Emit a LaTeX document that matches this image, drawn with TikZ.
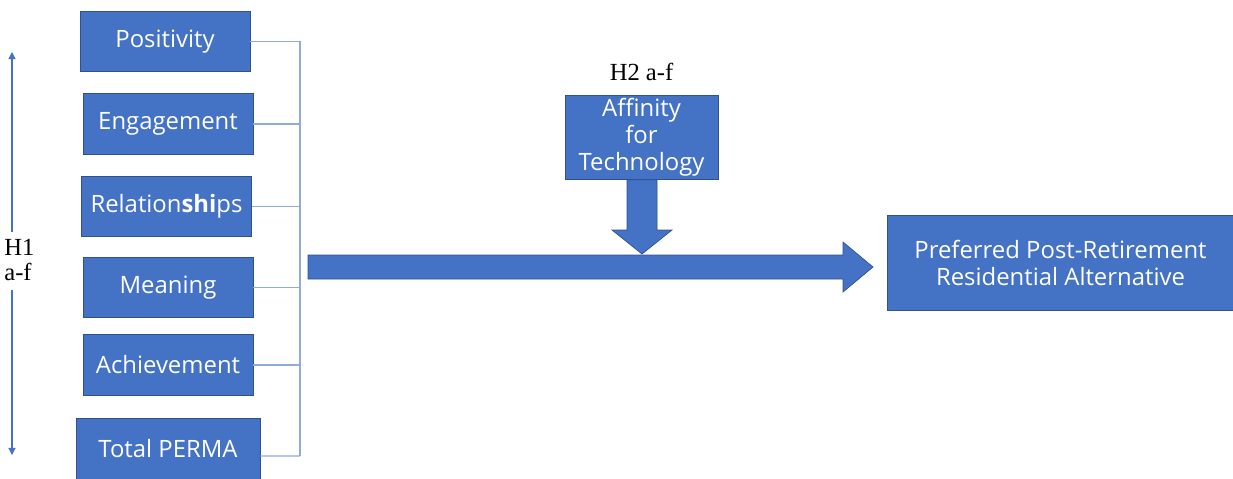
\documentclass[tikz,border=0pt]{standalone}
\usepackage{fontspec}
\setmainfont{Open Sans}
\newfontfamily\serifhyp{Liberation Serif}
\usetikzlibrary{arrows.meta,positioning}
\definecolor{boxblue}{HTML}{4472C4}
\definecolor{edgeblue}{HTML}{2F528F}
\definecolor{linkblue}{HTML}{8FAADC}
\tikzset{
	factor/.style={draw=edgeblue, fill=boxblue, text=white, thin,
		minimum width=3.4cm, minimum height=1.21cm, inner sep=1pt,
		align=center, font=\fontsize{13.6}{15.3}\selectfont},
	link/.style={draw=linkblue, line width=0.6pt},
	hyp/.style={font=\serifhyp\fontsize{14}{14.5}\selectfont, align=left, inner sep=0pt},
	fatarrow/.style={draw=edgeblue, fill=boxblue, thin},
	updown/.style={draw=boxblue, line width=0.6pt, -{Triangle[length=4pt,width=4pt]}},
}

\begin{document}
\begin{tikzpicture}[x=0.02cm, y=-0.02cm]
	\useasboundingbox (0,0) rectangle (1233,478);

	% PERMA factors
	\node[factor] (pos) at (165,41.5) {Positivity};
	\node[factor] (eng) at (168,124) {Engagement};
	\node[factor] (rel) at (166.5,206.5) {Relation\textbf{shi}ps};
	\node[factor] (mea) at (168,287.5) {Meaning};
	\node[factor] (ach) at (168,365) {Achievement};
	\node[factor, minimum width=3.68cm] (tot) at (168,449) {Total PERMA};

	% bracket joining the factors
	\coordinate (bustop) at (300,41);
	\coordinate (busbot) at (300,456);
	\draw[link] (bustop) -- (busbot);
	\foreach \f in {pos,eng,rel,mea,ach}
		\draw[link] (\f.east) -- (\f.east -| bustop);
	\draw[link] ([yshift=-0.14cm]tot.east) -- (busbot);

	% H1 label with its up and down arrows
	\node[hyp, anchor=west] (h1) at (4,260) {H1\\a-f};
	\coordinate (uptip) at (12,52);
	\coordinate (downtip) at (12,455);
	\draw[updown] (12,232) -- (uptip);
	\draw[updown] (12,290) -- (downtip);

	% moderator and outcome
	\node[factor, minimum width=3.06cm, minimum height=1.68cm] (aff) at (641.5,137.5) {Affinity\\for\\Technology};
	\node[hyp, above=0.28cm of aff] (h2) {H2 a-f};
	\node[factor, minimum width=6.94cm, minimum height=1.9cm] (alt) at (1060.5,263) {Preferred Post-Retirement\\Residential Alternative};

	% block arrows
	\filldraw[fatarrow] (308,255) -- (843,255) -- (843,242) -- (873,267) -- (843,292) -- (843,279) -- (308,279) -- cycle;
	\filldraw[fatarrow] (aff.south -| 627,0) -- (aff.south -| 657,0) -- (657,230) -- (672,230) -- (642,254) -- (612,230) -- (627,230) -- cycle;
\end{tikzpicture}
\end{document}
